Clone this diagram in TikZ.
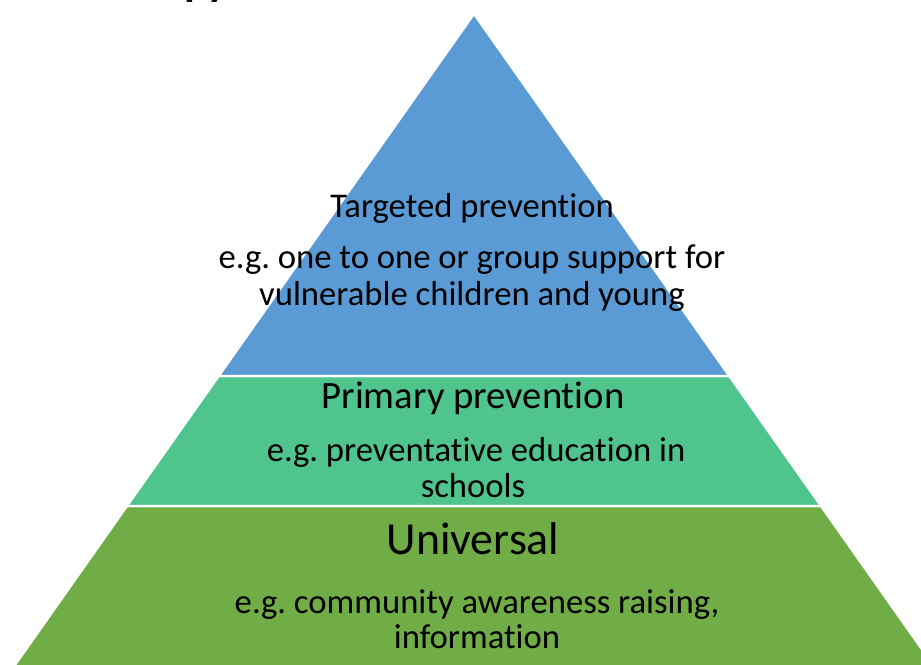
\documentclass[tikz,border=0pt]{standalone}
\usepackage{fontspec}
\setmainfont{Carlito}[Ligatures=NoCommon]
\frenchspacing
\definecolor{tierblue}{HTML}{5B9BD5}
\definecolor{tierteal}{HTML}{4FC58D}
\definecolor{tiergreen}{HTML}{70AD47}
\tikzset{
	tier/.style={draw=white,line width=1.6pt,line join=round},
	lbl/.style={anchor=base,inner sep=0pt,font=\fontsize{26}{28}\selectfont},
	midl/.style={anchor=base,inner sep=0pt,font=\fontsize{29}{31}\selectfont},
	bigl/.style={anchor=base,inner sep=0pt,font=\fontsize{34.4}{36}\selectfont}
}
\begin{document}
\begin{tikzpicture}[x=0.75pt,y=-0.75pt]
	\useasboundingbox (0,0) rectangle (921,664);
	% corners of the bands
	\coordinate (apex) at (474,14);
	\coordinate (bl) at (218.8,376);
	\coordinate (br) at (729.2,376);
	\coordinate (ml) at (127.1,506);
	\coordinate (mr) at (820.9,506);
	\coordinate (gl) at (-9.6,700);
	\coordinate (gr) at (957.6,700);
	\filldraw[tier,fill=tiergreen] (ml) -- (mr) -- (gr) -- (gl) -- cycle;
	\filldraw[tier,fill=tierteal] (bl) -- (br) -- (mr) -- (ml) -- cycle;
	\filldraw[tier,fill=tierblue] (apex) -- (br) -- (bl) -- cycle;
	% cut title
	\node[anchor=base west,inner sep=0pt,font=\bfseries\fontsize{33}{36}\selectfont] (title) at (184,-5) {py};
	% top band
	\node[lbl] (targ) at (472,217) {Targeted prevention};
	\node[lbl] (targa) at (472,268) {e.g. one to one or group support for};
	\node[lbl] (targb) at (472,305) {vulnerable children and young};
	% middle band
	\node[midl] (prim) at (473,408) {Primary prevention};
	\node[lbl] (prima) at (476,461) {e.g. preventative education in};
	\node[lbl] (primb) at (473,497) {schools};
	% bottom band
	\node[bigl] (univ) at (473,554) {Universal};
	\node[lbl] (univa) at (477,613) {e.g. community awareness raising,};
	\node[lbl] (univb) at (477,648) {information};
\end{tikzpicture}
\end{document}
